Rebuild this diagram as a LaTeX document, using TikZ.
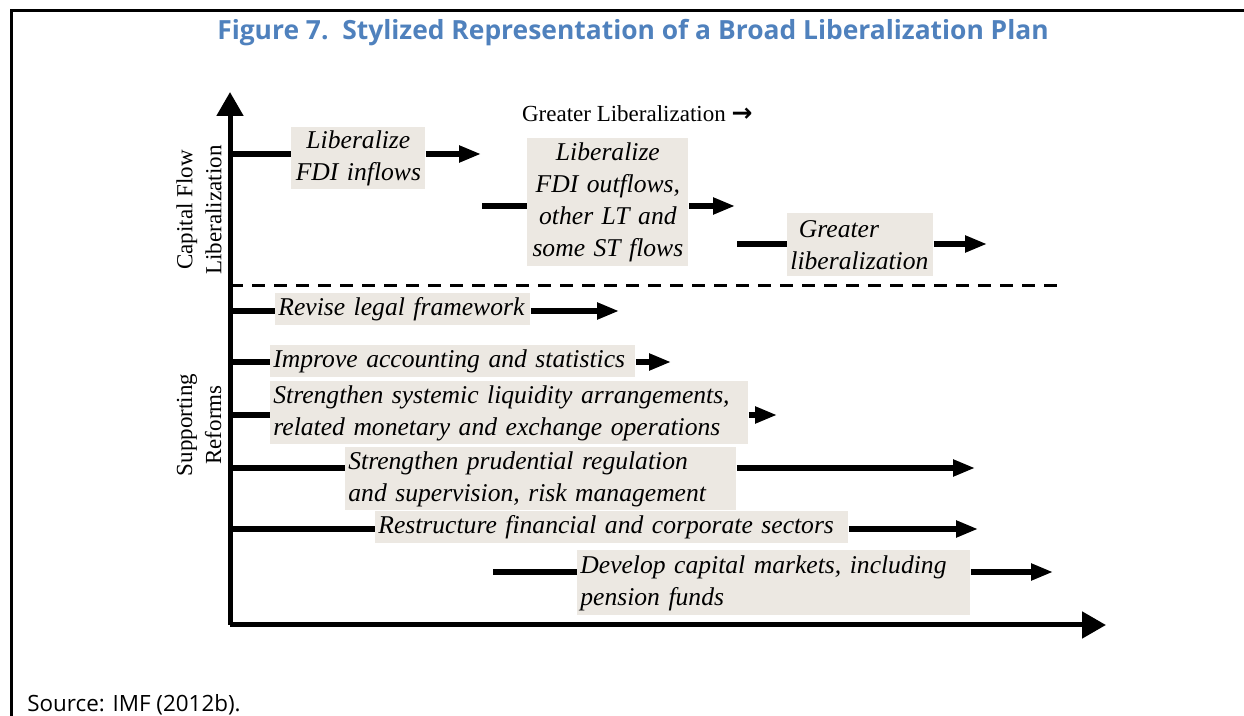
\documentclass[tikz,border=0pt]{standalone}
\usepackage{fontspec}
\setmainfont{Liberation Serif}
\newfontfamily\uifont{Open Sans}
\newfontfamily\symfont{DejaVu Sans}
\usetikzlibrary{arrows.meta}

\definecolor{taskfill}{RGB}{236,232,226}
\definecolor{figblue}{RGB}{79,129,189}

\tikzset{
  task/.style={fill=taskfill, anchor=north west, inner xsep=1.5pt, inner ysep=0pt,
    font=\itshape\fontsize{12.8}{16}\selectfont, align=left},
  bar/.style={line width=2.6pt},
  bar arrow/.style={line width=2.6pt, -{Triangle[length=11pt,width=8pt]}},
  axisline/.style={line width=2.5pt, -{Triangle[length=12pt,width=13pt]}},
  sidelabel/.style={rotate=90, align=center, font=\fontsize{11.5}{14.5}\selectfont},
}

\begin{document}
\begin{tikzpicture}[x=0.5pt, y=-0.5pt]
  \useasboundingbox (0,0) rectangle (1244,716);
  % frame
  \draw[line width=1.5pt] (11,716) -- (11,11) -- (1244,11);
  \node (title) at (633,33) {\uifont\bfseries\fontsize{13.2}{16}\selectfont\color{figblue}Figure 7.\ \ Stylized Representation of a Broad Liberalization Plan};
  \node[anchor=west, inner sep=0pt] (source) at (27,705) {\uifont\fontsize{11.2}{14}\selectfont Source: IMF (2012b).};

  % axes
  \coordinate (origin) at (230,625);
  \coordinate (ytip) at (230,92);
  \coordinate (xtip) at (1106,625);
  \draw[axisline] (origin) -- (ytip);
  \draw[axisline] (origin) -- (xtip);
  \draw[line width=1.5pt, dash pattern=on 6.5pt off 4.5pt] (230,286) -- (1063,286);

  \node[sidelabel] (cflow) at (199,210) {Capital Flow\\Liberalization};
  \node[sidelabel] (reforms) at (199,425) {Supporting\\Reforms};
  \node[anchor=west, font=\fontsize{11.5}{14}\selectfont] (greater) at (515,114) {Greater Liberalization {\symfont\bfseries\fontsize{12.5}{14}\selectfont →}};

  % capital flow steps
  \node[task, align=center, text width=64pt, minimum height=31pt] (b1) at (291,127) {Liberalize\\FDI inflows};
  \node[task, align=center, text width=77.5pt, minimum height=64pt] (b2) at (527,138) {Liberalize\\FDI outflows,\\other LT and\\some ST flows};
  \node[task, text width=70pt, minimum height=31.5pt] (b3) at (787,213) {\ Greater\\liberalization};

  % supporting reforms
  \node[task, text width=124.5pt, minimum height=16pt] (b4) at (275,293) {Revise legal framework};
  \node[task, text width=179.5pt, minimum height=16pt] (b5) at (270,345) {Improve accounting and statistics};
  \node[task, text width=236pt, minimum height=31.5pt] (b6) at (270,381) {Strengthen systemic liquidity arrangements,\\related monetary and exchange operations};
  \node[task, text width=192.5pt, minimum height=31.5pt] (b7) at (345,447) {Strengthen prudential regulation\\and supervision, risk management};
  \node[task, text width=233.5pt, minimum height=16pt] (b8) at (375,511) {Restructure financial and corporate sectors};
  \node[task, text width=193.5pt, minimum height=32.5pt] (b9) at (577,550) {Develop capital markets, including\\pension funds};

  % start and end points of the bars
  \coordinate (s1) at (230,154);  \coordinate (t1) at (481,154);
  \coordinate (s2) at (482,206);  \coordinate (t2) at (735,206);
  \coordinate (s3) at (737,244);  \coordinate (t3) at (987,244);
  \coordinate (s4) at (230,311);  \coordinate (t4) at (619,311);
  \coordinate (s5) at (230,362);  \coordinate (t5) at (671,362);
  \coordinate (s6) at (230,415);  \coordinate (t6) at (777,415);
  \coordinate (s7) at (230,468);  \coordinate (t7) at (975,468);
  \coordinate (s8) at (230,529);  \coordinate (t8) at (978,529);
  \coordinate (s9) at (493,572);  \coordinate (t9) at (1053,572);

  \foreach \i in {1,...,9} {
    \draw[bar] (s\i) -- (b\i.west |- s\i);
    \draw[bar arrow] (b\i.east |- s\i) -- (t\i);
  }
\end{tikzpicture}
\end{document}
